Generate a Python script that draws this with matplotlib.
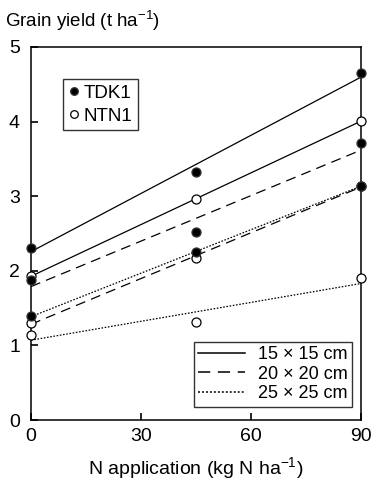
import matplotlib
matplotlib.use("Agg")
import matplotlib.pyplot as plt
import numpy as np
from matplotlib.lines import Line2D

plt.rcParams['font.family'] = ['Liberation Sans', 'DejaVu Sans']
plt.rcParams['mathtext.default'] = 'regular'

n_rates = [0, 45, 90]
spacings = ['15 × 15 cm', '20 × 20 cm', '25 × 25 cm']
tdk1 = {
    '15 × 15 cm': [2.31, 3.32, 4.65],
    '20 × 20 cm': [1.88, 2.52, 3.71],
    '25 × 25 cm': [1.39, 2.25, 3.14],
}
ntn1 = {
    '15 × 15 cm': [1.93, 2.96, 4.01],
    '20 × 20 cm': [1.30, 2.17, 3.14],
    '25 × 25 cm': [1.14, 1.31, 1.90],
}
styles = {
    '15 × 15 cm': '-',
    '20 × 20 cm': (0, (8, 5)),
    '25 × 25 cm': (0, (1.3, 1.3)),
}
x_ticks = [0, 30, 60, 90]
y_ticks = [0, 1, 2, 3, 4, 5]

fig = plt.figure(figsize=(3.73, 4.82), dpi=100)
ax = fig.add_axes([0.0831, 0.1286, 0.968 - 0.0831, 0.9025 - 0.1286])

x = np.array(n_rates, dtype=float)
xx = np.array([0, 90], dtype=float)
for data in (ntn1, tdk1):
    for s in spacings:
        y = np.array(data[s])
        k, b = np.polyfit(x, y, 1)
        ax.plot(xx, k * xx + b, color='black', lw=0.9, linestyle=styles[s], zorder=2)

for s in spacings:
    ax.plot(x, ntn1[s], linestyle='none', marker='o', ms=6.5, mfc='white',
            mec='black', mew=0.9, zorder=3, clip_on=False)
for s in spacings:
    ax.plot(x, tdk1[s], linestyle='none', marker='o', ms=6.5, mfc='black',
            mec='#333333', mew=0.9, zorder=4, clip_on=False)

ax.set_xlim(0, 90)
ax.set_ylim(0, 5)
ax.set_xticks(x_ticks)
ax.set_yticks(y_ticks)
ax.tick_params(direction='in', length=5, width=1.2, labelsize=14)
ax.tick_params(axis='y', pad=8)
ax.tick_params(axis='x', pad=6)
for sp in ax.spines.values():
    sp.set_linewidth(1.1)

ax.set_xlabel('N application (kg N ha$^{-1}$)', fontsize=14, labelpad=7)
fig.text(0.013, 0.981, 'Grain yield (t ha$^{-1}$)', fontsize=13.5, va='top', ha='left')

h1 = [Line2D([], [], linestyle='none', marker='o', ms=5.5, mfc='black', mec='#333333', mew=0.9),
      Line2D([], [], linestyle='none', marker='o', ms=5.5, mfc='white', mec='black', mew=0.9)]
leg1 = ax.legend(h1, ['TDK1', 'NTN1'], loc='upper left', bbox_to_anchor=(0.097, 0.914),
                 frameon=True, fancybox=False, edgecolor='black', fontsize=13.5,
                 handlelength=0.55, handletextpad=0.25, borderpad=0.3, labelspacing=0.3,
                 borderaxespad=0)
leg1.get_frame().set_linewidth(1.0)
ax.add_artist(leg1)

h2 = [Line2D([], [], color='black', lw=1.1, linestyle=styles[s]) for s in spacings]
leg2 = ax.legend(h2, spacings, loc='lower right', bbox_to_anchor=(0.973, 0.035),
                 frameon=True, fancybox=False, edgecolor='black', fontsize=13,
                 handlelength=2.6, handletextpad=0.7, borderpad=0.25, labelspacing=0.15,
                 borderaxespad=0)
leg2.get_frame().set_linewidth(1.0)

fig.savefig('out.png', dpi=100)
